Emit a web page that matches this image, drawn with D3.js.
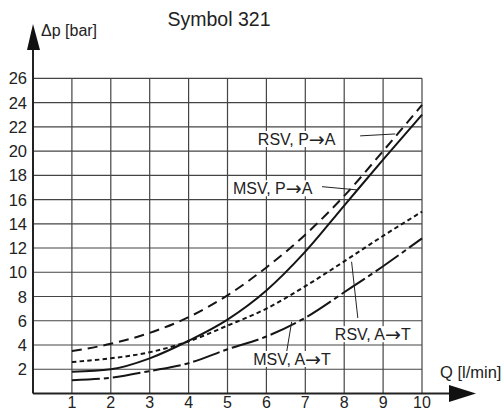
<html>
<style>
    body { margin:0; background:#fff }
    svg text { font-family:"Liberation Sans", Arial, sans-serif; fill:#222 }
    .arr { font-family:"DejaVu Sans", sans-serif }
</style>
<script src="https://d3js.org/d3.v7.min.js" charset="utf-8"></script>
<body>
<div class="chart"></div>
<script>
    // flow Q [l/min] and pressure drop readings per curve
    var flow = [1, 2, 3, 4, 5, 6, 7, 8, 9, 10];
    var rsvPA = [3.5, 4.1, 5.0, 6.3, 8.1, 10.4, 13.1, 16.3, 20.0, 23.8];
    var msvPA = [1.8, 2.0, 2.9, 4.35, 6.1, 8.5, 11.7, 15.5, 19.3, 23.0];
    var rsvAT = [2.6, 2.9, 3.4, 4.3, 5.6, 7.0, 8.85, 10.9, 13.0, 15.0];
    var msvAT = [1.1, 1.3, 1.85, 2.5, 3.65, 4.7, 6.25, 8.35, 10.5, 12.8];
    var xTicks = [1, 2, 3, 4, 5, 6, 7, 8, 9, 10];
    var yTicks = [2, 4, 6, 8, 10, 12, 14, 16, 18, 20, 22, 24, 26];
    var labels = [["RSV, P", "A"], ["MSV, P", "A"], ["RSV, A", "T"], ["MSV, A", "T"]];

    //************************************************************
    // Configuration
    //************************************************************
    var width = 504, height = 409;
    var x = d3.scaleLinear().domain([0, 10]).range([33, 422]);
    var y = d3.scaleLinear().domain([0, 26]).range([393.5, 78.3]);

    var svg = d3.select(".chart").append("svg")
        .attr("width", width)
        .attr("height", height);

    // grid
    var grid = svg.append("g").attr("stroke", "#444").attr("stroke-width", 1.2);
    grid.selectAll("line.v").data(xTicks).enter().append("line")
        .attr("x1", function(d){return x(d)}).attr("x2", function(d){return x(d)})
        .attr("y1", y(0)).attr("y2", y(26));
    grid.selectAll("line.h").data(yTicks).enter().append("line")
        .attr("x1", x(0)).attr("x2", x(10))
        .attr("y1", function(d){return y(d)}).attr("y2", function(d){return y(d)});

    // axes with arrows
    svg.append("line").attr("x1", x(0)).attr("x2", 452).attr("y1", y(0)).attr("y2", y(0))
        .attr("stroke", "#222").attr("stroke-width", 2);
    svg.append("line").attr("x1", x(0)).attr("x2", x(0)).attr("y1", y(0)).attr("y2", 48)
        .attr("stroke", "#222").attr("stroke-width", 2);
    svg.append("path").attr("d", "M27,50 L33,24 L40,50 Z").attr("fill", "#111");
    svg.append("path").attr("d", "M449,385 L476,393.5 L449,402 Z").attr("fill", "#111");

    // tick labels
    svg.selectAll("text.yt").data(yTicks).enter().append("text")
        .attr("x", 27).attr("y", function(d){return y(d) + 6})
        .attr("text-anchor", "end").attr("font-size", 16.5)
        .text(function(d){return d});
    svg.selectAll("text.xt").data(xTicks).enter().append("text")
        .attr("x", function(d){return x(d)}).attr("y", 408)
        .attr("text-anchor", "middle").attr("font-size", 16)
        .text(function(d){return d});

    svg.append("text").attr("x", 219).attr("y", 25.5).attr("text-anchor", "middle")
        .attr("font-size", 19.5).text("Symbol 321");
    svg.append("text").attr("x", 41).attr("y", 36).attr("font-size", 16).text("\u0394p [bar]");
    svg.append("text").attr("x", 440).attr("y", 378).attr("font-size", 16.5).text("Q [l/min]");

    // curves
    var line = d3.line()
        .x(function(d){return x(d[0])})
        .y(function(d){return y(d[1])})
        .curve(d3.curveMonotoneX);
    var series = [
        { v: rsvPA, dash: "10,6" },
        { v: msvPA, dash: null },
        { v: rsvAT, dash: "4.5,3.2" },
        { v: msvAT, dash: "28,4,5,4" }
    ];
    svg.selectAll("path.curve").data(series).enter().append("path")
        .attr("fill", "none").attr("stroke", "#151515").attr("stroke-width", 2)
        .attr("stroke-dasharray", function(d){return d.dash})
        .attr("d", function(d){return line(flow.map(function(q, i){return [q, d.v[i]]}))});

    // labels with white boxes and leader lines
    var notes = [
        { t: labels[0], at: [5.78, 20.5], lead: [[8.41, 21.25], [9.31, 21.41]] },
        { t: labels[1], at: [5.14, 16.43], lead: [[7.43, 17.06], [8.35, 16.79]] },
        { t: labels[2], at: [7.76, 4.4], lead: [[8.19, 10.87], [8.35, 6.23]] },
        { t: labels[3], at: [5.66, 2.35], lead: [[6.65, 5.92], [6.52, 3.42]] }
    ];
    var g = svg.selectAll("g.note").data(notes).enter().append("g");
    g.append("line")
        .attr("x1", function(d){return x(d.lead[0][0])}).attr("y1", function(d){return y(d.lead[0][1])})
        .attr("x2", function(d){return x(d.lead[1][0])}).attr("y2", function(d){return y(d.lead[1][1])})
        .attr("stroke", "#222").attr("stroke-width", 1);
    var tx = g.append("text")
        .attr("x", function(d){return x(d.at[0])}).attr("y", function(d){return y(d.at[1])})
        .attr("font-size", 16);
    tx.append("tspan").text(function(d){return d.t[0]});
    tx.append("tspan").attr("class", "arr").attr("font-size", 19).attr("dy", 1).text("\u2192");
    tx.append("tspan").attr("dy", -1).text(function(d){return d.t[1]});
    tx.each(function(){
        var b = this.getBBox();
        d3.select(this.parentNode).insert("rect", "text")
            .attr("x", b.x - 1).attr("y", b.y + 3).attr("width", b.width + 2).attr("height", b.height - 6)
            .attr("fill", "#fff");
    });
</script>
</body>
</html>
